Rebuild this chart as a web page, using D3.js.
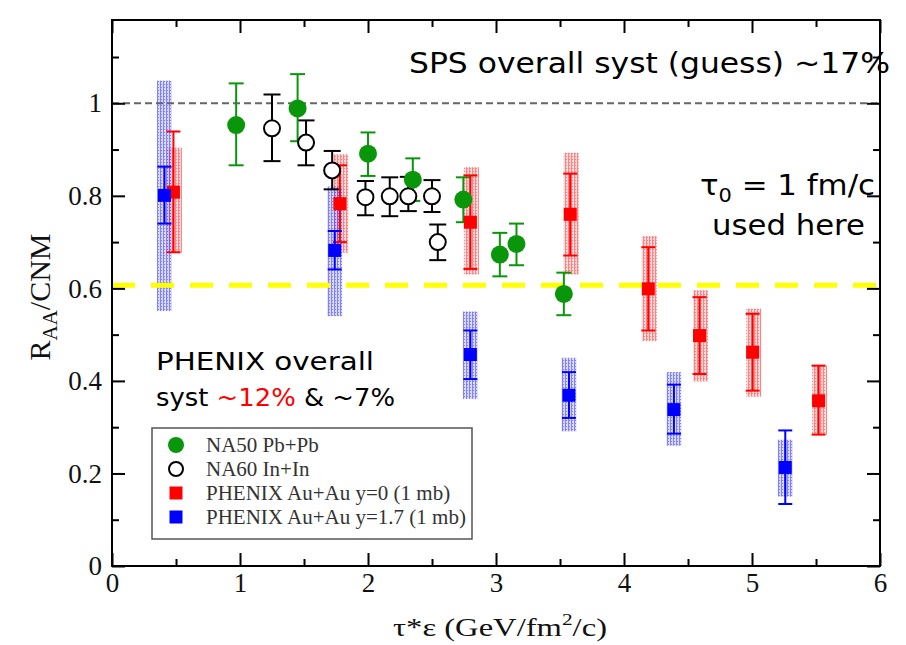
<!DOCTYPE html>
<html>
<head>
<meta charset="utf-8">
<script src="https://cdn.jsdelivr.net/npm/d3@7"></script>
<style>
  body { margin: 0; background: #fff; }
  svg { display: block; }
</style>
</head>
<body>
<div class="canvas"></div>
<script>
// NA50 Pb+Pb (green filled circles)
const na50 = [
  { x: 0.97, y: 0.953, lo: 0.866, hi: 1.043 },
  { x: 1.45, y: 0.989, lo: 0.918, hi: 1.063 },
  { x: 2.0, y: 0.891, lo: 0.843, hi: 0.937 },
  { x: 2.35, y: 0.835, lo: 0.789, hi: 0.881 },
  { x: 2.745, y: 0.792, lo: 0.743, hi: 0.84 },
  { x: 3.03, y: 0.673, lo: 0.626, hi: 0.72 },
  { x: 3.16, y: 0.696, lo: 0.65, hi: 0.74 },
  { x: 3.53, y: 0.588, lo: 0.542, hi: 0.634 }
];

// NA60 In+In (open circles)
const na60 = [
  { x: 1.25, y: 0.946, lo: 0.875, hi: 1.019 },
  { x: 1.516, y: 0.915, lo: 0.866, hi: 0.963 },
  { x: 1.72, y: 0.855, lo: 0.814, hi: 0.897 },
  { x: 1.98, y: 0.797, lo: 0.758, hi: 0.832 },
  { x: 2.17, y: 0.799, lo: 0.756, hi: 0.84 },
  { x: 2.315, y: 0.799, lo: 0.767, hi: 0.841 },
  { x: 2.5, y: 0.799, lo: 0.765, hi: 0.834 },
  { x: 2.545, y: 0.7, lo: 0.661, hi: 0.738 }
];

// PHENIX Au+Au y=0 (red squares), stat + syst
const phenixY0 = [
  { x: 0.48, y: 0.808, lo: 0.678, hi: 0.939, sysLo: 0.677, sysHi: 0.904 },
  { x: 1.78, y: 0.783, lo: 0.7, hi: 0.866, sysLo: 0.677, sysHi: 0.89 },
  { x: 2.8, y: 0.743, lo: 0.642, hi: 0.844, sysLo: 0.63, sysHi: 0.862 },
  { x: 3.58, y: 0.76, lo: 0.671, hi: 0.848, sysLo: 0.63, sysHi: 0.893 },
  { x: 4.19, y: 0.599, lo: 0.509, hi: 0.689, sysLo: 0.486, sysHi: 0.713 },
  { x: 4.59, y: 0.498, lo: 0.415, hi: 0.581, sysLo: 0.399, sysHi: 0.596 },
  { x: 5.005, y: 0.462, lo: 0.379, hi: 0.545, sysLo: 0.366, sysHi: 0.556 },
  { x: 5.52, y: 0.357, lo: 0.284, hi: 0.433, sysLo: 0.284, sysHi: 0.433 }
];

// PHENIX Au+Au y=1.7 (blue squares), stat + syst
const phenixY17 = [
  { x: 0.41, y: 0.801, lo: 0.74, hi: 0.863, sysLo: 0.551, sysHi: 1.049 },
  { x: 1.74, y: 0.682, lo: 0.641, hi: 0.724, sysLo: 0.54, sysHi: 0.82 },
  { x: 2.8, y: 0.457, lo: 0.404, hi: 0.509, sysLo: 0.361, sysHi: 0.55 },
  { x: 3.57, y: 0.369, lo: 0.32, hi: 0.419, sysLo: 0.291, sysHi: 0.45 },
  { x: 4.39, y: 0.338, lo: 0.286, hi: 0.392, sysLo: 0.26, sysHi: 0.419 },
  { x: 5.26, y: 0.213, lo: 0.134, hi: 0.293, sysLo: 0.15, sysHi: 0.273 }
];

const refLevel = 1.0;
const cnmLevel = 0.607;

const xTicks = [0, 1, 2, 3, 4, 5, 6];
const xMinorTicks = [0.5, 1.5, 2.5, 3.5, 4.5, 5.5];
const yTicks = [0, 0.2, 0.4, 0.6, 0.8, 1];
const yTickLabels = ["0", "0.2", "0.4", "0.6", "0.8", "1"];
const yMinorTicks = [0.1, 0.3, 0.5, 0.7, 0.9, 1.1];

const legendLabels = [
  "NA50 Pb+Pb",
  "NA60 In+In",
  "PHENIX Au+Au y=0 (1 mb)",
  "PHENIX Au+Au y=1.7 (1 mb)"
];

const width = 906, height = 645;
const margin = { top: 20, right: 26, bottom: 79, left: 112 };
const graphWidth = width - margin.left - margin.right;
const graphHeight = height - margin.top - margin.bottom;

const green = "#0a960a", red = "#ff0000", blue = "#0000ff";
const serif = "'Liberation Serif', 'Times New Roman', serif";
const comic = "'DejaVu Sans', sans-serif";

const svg = d3.select(".canvas")
  .append("svg")
  .attr("width", width)
  .attr("height", height);

// hatched fill for systematic bands
const defs = svg.append("defs");
function hatch(id, bg, stripe) {
  const p = defs.append("pattern")
    .attr("id", id)
    .attr("patternUnits", "userSpaceOnUse")
    .attr("width", 3)
    .attr("height", 3);
  p.append("rect").attr("width", 3).attr("height", 3).attr("fill", bg);
  p.append("rect").attr("width", 1).attr("height", 3).attr("fill", stripe);
  p.append("rect").attr("x", 1).attr("y", 1).attr("width", 1).attr("height", 1).attr("fill", stripe);
}
hatch("hatchRed", "rgba(255,150,150,0.35)", "rgba(255,40,40,0.5)");
hatch("hatchBlue", "rgba(150,150,255,0.35)", "rgba(40,40,255,0.5)");

const graph = svg.append("g")
  .attr("transform", `translate(${margin.left}, ${margin.top})`);

//scales
const x = d3.scaleLinear().domain([0, 6]).range([0, graphWidth]);
const y = d3.scaleLinear().domain([0, 1.18]).range([graphHeight, 0]);

//systematic bands
const bandW = 15;
graph.append("g").selectAll("rect")
  .data(phenixY0)
  .enter().append("rect")
  .attr("x", d => x(d.x) - bandW / 2 + 1)
  .attr("width", bandW)
  .attr("y", d => y(d.sysHi))
  .attr("height", d => y(d.sysLo) - y(d.sysHi))
  .attr("fill", "url(#hatchRed)");

graph.append("g").selectAll("rect")
  .data(phenixY17)
  .enter().append("rect")
  .attr("x", d => x(d.x) - bandW / 2)
  .attr("width", bandW)
  .attr("y", d => y(d.sysHi))
  .attr("height", d => y(d.sysLo) - y(d.sysHi))
  .attr("fill", "url(#hatchBlue)");

//reference lines
graph.append("line")
  .attr("x1", 0).attr("x2", graphWidth)
  .attr("y1", y(refLevel)).attr("y2", y(refLevel))
  .attr("stroke", "#666")
  .attr("stroke-width", 2)
  .attr("stroke-dasharray", "7,4");

graph.append("line")
  .attr("x1", 0).attr("x2", graphWidth)
  .attr("y1", y(cnmLevel)).attr("y2", y(cnmLevel))
  .attr("stroke", "#ffff00")
  .attr("stroke-width", 5)
  .attr("stroke-dasharray", "23,16");

//error bars
function errorBars(data, color, cap) {
  const g = graph.append("g")
    .attr("stroke", color)
    .attr("stroke-width", 2)
    .attr("fill", "none");
  g.selectAll(".v").data(data).enter().append("line")
    .attr("x1", d => x(d.x)).attr("x2", d => x(d.x))
    .attr("y1", d => y(d.hi)).attr("y2", d => y(d.lo));
  g.selectAll(".t").data(data).enter().append("line")
    .attr("x1", d => x(d.x) - cap / 2).attr("x2", d => x(d.x) + cap / 2)
    .attr("y1", d => y(d.hi)).attr("y2", d => y(d.hi));
  g.selectAll(".b").data(data).enter().append("line")
    .attr("x1", d => x(d.x) - cap / 2).attr("x2", d => x(d.x) + cap / 2)
    .attr("y1", d => y(d.lo)).attr("y2", d => y(d.lo));
}
errorBars(na60, "#000", 17);
errorBars(na50, green, 15);
errorBars(phenixY0, red, 14);
errorBars(phenixY17, blue, 14);

//markers
graph.append("g").selectAll("circle")
  .data(na60)
  .enter().append("circle")
  .attr("cx", d => x(d.x))
  .attr("cy", d => y(d.y))
  .attr("r", 8)
  .attr("fill", "#fff")
  .attr("stroke", "#000")
  .attr("stroke-width", 2);

graph.append("g").selectAll("circle")
  .data(na50)
  .enter().append("circle")
  .attr("cx", d => x(d.x))
  .attr("cy", d => y(d.y))
  .attr("r", 9)
  .attr("fill", green);

const sq = 13;
graph.append("g").selectAll("rect")
  .data(phenixY0)
  .enter().append("rect")
  .attr("x", d => x(d.x) - sq / 2)
  .attr("y", d => y(d.y) - sq / 2)
  .attr("width", sq).attr("height", sq)
  .attr("fill", red);

graph.append("g").selectAll("rect")
  .data(phenixY17)
  .enter().append("rect")
  .attr("x", d => x(d.x) - sq / 2)
  .attr("y", d => y(d.y) - sq / 2)
  .attr("width", sq).attr("height", sq)
  .attr("fill", blue);

//axes, ticks pointing inward
function styleAxis(g) {
  g.select(".domain").remove();
  g.selectAll("line").attr("stroke", "#000").attr("stroke-width", 2);
  g.selectAll("text")
    .attr("font-family", serif)
    .attr("font-size", 27)
    .attr("fill", "#111");
}

graph.append("g")
  .attr("transform", `translate(0, ${graphHeight})`)
  .call(d3.axisBottom(x).tickValues(xTicks).tickSize(-13).tickPadding(7).tickFormat(d3.format("d")))
  .call(styleAxis);
graph.append("g")
  .attr("transform", `translate(0, ${graphHeight})`)
  .call(d3.axisBottom(x).tickValues(xMinorTicks).tickSize(-7).tickFormat(""))
  .call(styleAxis);
graph.append("g")
  .call(d3.axisTop(x).tickValues(xTicks).tickSize(-13).tickFormat(""))
  .call(styleAxis);
graph.append("g")
  .call(d3.axisTop(x).tickValues(xMinorTicks).tickSize(-7).tickFormat(""))
  .call(styleAxis);

graph.append("g")
  .call(d3.axisLeft(y).tickValues(yTicks).tickSize(-13).tickPadding(10)
    .tickFormat((d, i) => yTickLabels[i]))
  .call(styleAxis);
graph.append("g")
  .call(d3.axisLeft(y).tickValues(yMinorTicks).tickSize(-7).tickFormat(""))
  .call(styleAxis);
graph.append("g")
  .attr("transform", `translate(${graphWidth}, 0)`)
  .call(d3.axisRight(y).tickValues(yTicks).tickSize(-13).tickFormat(""))
  .call(styleAxis);
graph.append("g")
  .attr("transform", `translate(${graphWidth}, 0)`)
  .call(d3.axisRight(y).tickValues(yMinorTicks).tickSize(-7).tickFormat(""))
  .call(styleAxis);

//frame
graph.append("rect")
  .attr("width", graphWidth)
  .attr("height", graphHeight)
  .attr("fill", "none")
  .attr("stroke", "#000")
  .attr("stroke-width", 2);

//axis titles
svg.append("text")
  .attr("x", 393)
  .attr("y", 636)
  .attr("font-family", serif)
  .attr("font-size", 26)
  .attr("textLength", 214)
  .attr("lengthAdjust", "spacingAndGlyphs")
  .attr("fill", "#111")
  .html('τ*ε (GeV/fm<tspan dy="-11" font-size="17">2</tspan><tspan dy="11">/c)</tspan>');

svg.append("text")
  .attr("transform", "translate(50, 297) rotate(-90)")
  .attr("text-anchor", "middle")
  .attr("font-family", serif)
  .attr("font-size", 30)
  .attr("fill", "#111")
  .html('R<tspan dy="7" font-size="21">AA</tspan><tspan dy="-7">/CNM</tspan>');

//annotations
svg.append("text")
  .attr("x", 409).attr("y", 73)
  .attr("font-family", comic)
  .attr("font-size", 29)
  .attr("textLength", 481)
  .attr("lengthAdjust", "spacingAndGlyphs")
  .attr("fill", "#000")
  .text("SPS overall syst (guess) ~17%");

svg.append("text")
  .attr("x", 700).attr("y", 195)
  .attr("font-family", comic)
  .attr("font-size", 28)
  .attr("textLength", 175)
  .attr("lengthAdjust", "spacingAndGlyphs")
  .attr("fill", "#000")
  .html('τ<tspan dy="7" font-size="19">0</tspan><tspan dy="-7"> = 1 fm/c</tspan>');

svg.append("text")
  .attr("x", 712).attr("y", 235)
  .attr("font-family", comic)
  .attr("font-size", 28)
  .attr("textLength", 153)
  .attr("lengthAdjust", "spacingAndGlyphs")
  .attr("fill", "#000")
  .text("used here");

svg.append("text")
  .attr("x", 156).attr("y", 370)
  .attr("font-family", comic)
  .attr("font-size", 24)
  .attr("textLength", 218)
  .attr("lengthAdjust", "spacingAndGlyphs")
  .attr("fill", "#000")
  .text("PHENIX overall");

svg.append("text")
  .attr("x", 156).attr("y", 406)
  .attr("font-family", comic)
  .attr("font-size", 24)
  .attr("textLength", 239)
  .attr("lengthAdjust", "spacingAndGlyphs")
  .attr("fill", "#000")
  .html('syst <tspan fill="#ff0000">~12%</tspan> &amp; ~7%');

//legend
const legend = svg.append("g").attr("transform", "translate(152, 428)");
legend.append("rect")
  .attr("width", 320).attr("height", 111)
  .attr("fill", "#fff")
  .attr("stroke", "#555")
  .attr("stroke-width", 1.5);

const rowY = d3.scalePoint().domain(legendLabels).range([17, 89]);
const symbols = [
  g => g.append("circle").attr("r", 8).attr("fill", green),
  g => g.append("circle").attr("r", 7).attr("fill", "none").attr("stroke", "#000").attr("stroke-width", 2),
  g => g.append("rect").attr("x", -6.5).attr("y", -6.5).attr("width", 13).attr("height", 13).attr("fill", red),
  g => g.append("rect").attr("x", -6.5).attr("y", -6.5).attr("width", 13).attr("height", 13).attr("fill", blue)
];
legendLabels.forEach((label, i) => {
  const row = legend.append("g").attr("transform", `translate(0, ${rowY(label)})`);
  symbols[i](row.append("g").attr("transform", "translate(24, 0)"));
  row.append("text")
    .attr("x", 54).attr("y", 7)
    .attr("font-family", serif)
    .attr("font-size", 21)
    .attr("fill", "#333")
    .text(label);
});
</script>
</body>
</html>
